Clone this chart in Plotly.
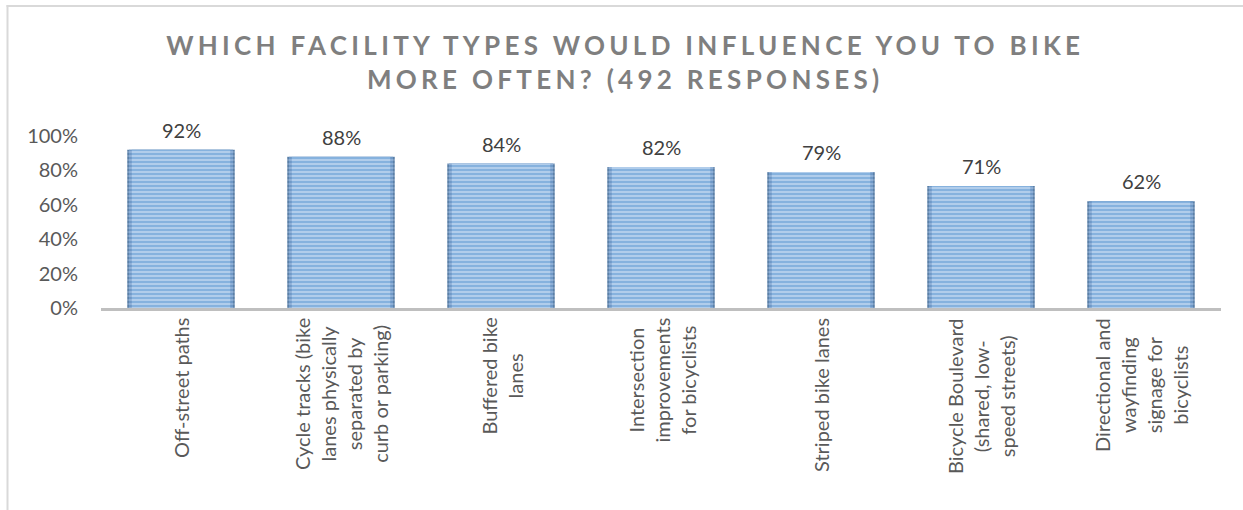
import plotly.graph_objects as go

categories = [
    "Off-street paths",
    "Cycle tracks (bike<br>lanes physically<br>separated by<br>curb or parking)",
    "Buffered bike<br>lanes",
    "Intersection<br>improvements<br>for bicyclists",
    "Striped bike lanes",
    "Bicycle Boulevard<br>(shared, low-<br>speed streets)",
    "Directional and<br>wayfinding<br>signage for<br>bicyclists",
]
values = [0.92, 0.88, 0.84, 0.82, 0.79, 0.71, 0.62]
value_labels = ["92%", "88%", "84%", "82%", "79%", "71%", "62%"]
tick_vals = [0, 0.2, 0.4, 0.6, 0.8, 1.0]
tick_text = ["0%", "20%", "40%", "60%", "80%", "100%"]
title_lines = ["WHICH FACILITY TYPES WOULD INFLUENCE YOU TO BIKE", "MORE OFTEN? (492 RESPONSES)"]

FONT = "Lato"
W, H = 1243, 510
ML, MR, MT, MB = 101, 22, 136, 202
pw = W - ML - MR
ph = H - MT - MB

x_idx = list(range(len(categories)))

fig = go.Figure()
# bar body (shaded edges -> lighter centre, horizontal stripes)
shades = [
    (0.672, "#36628f", "#7f9dbf"),
    (0.650, "#4379b2", "#9bb9dc"),
    (0.615, "#4a8ccc", "#c3d8f0"),
]
for w, fg, bg in shades:
    fig.add_trace(go.Bar(
        x=x_idx,
        y=values,
        marker=dict(
            color=bg,
            pattern=dict(shape="-", fgcolor=fg, bgcolor=bg, size=4, solidity=0.65),
            line=dict(width=0),
        ),
        width=w,
        hoverinfo="skip",
    ))

# value labels above the bars
for i, v, t in zip(x_idx, values, value_labels):
    fig.add_annotation(
        x=i, y=v, xref="x", yref="y", text=t,
        xanchor="center", yanchor="bottom", yshift=6,
        showarrow=False,
        font=dict(family=FONT, size=20, color="#404040"),
    )

# category labels under the axis (rotated, centred lines)
for i, c in zip(x_idx, categories):
    fig.add_annotation(
        x=i, y=0, xref="x", yref="y",
        text=c, textangle=-90, align="center",
        xanchor="center", yanchor="top", yshift=-8,
        showarrow=False,
        font=dict(family=FONT, size=20, color="#595959"),
    )

# chart border (partially visible frame: left and top edges)
def px_to_paper_x(px):
    return (px - ML) / pw

def px_to_paper_y(py):
    return (H - MB - py) / ph

fig.add_shape(type="rect", xref="paper", yref="paper",
              x0=px_to_paper_x(6.5), x1=px_to_paper_x(W + 5),
              y0=px_to_paper_y(7), y1=px_to_paper_y(5),
              line=dict(width=0), fillcolor="#d9d9d9", layer="above")
fig.add_shape(type="rect", xref="paper", yref="paper",
              x0=px_to_paper_x(6.5), x1=px_to_paper_x(8.5),
              y0=px_to_paper_y(H + 5), y1=px_to_paper_y(5),
              line=dict(width=0), fillcolor="#d9d9d9", layer="above")

span = '<span style="letter-spacing:4.3px">'
title_html = "<br>".join(span + t + "</span>" for t in title_lines)

fig.update_layout(
    width=W, height=H,
    margin=dict(l=ML, r=MR, t=MT, b=MB),
    paper_bgcolor="white", plot_bgcolor="white",
    showlegend=False,
    barmode="overlay",
    title=dict(
        text=title_html,
        x=0.503, xanchor="center", xref="container",
        y=1 - 55 / H, yanchor="top", yref="container",
        font=dict(family=FONT, size=26, color="#7f7f7f", weight="bold"),
    ),
    xaxis=dict(
        range=[-0.5, len(categories) - 0.5],
        showticklabels=False, ticks="", showgrid=False, zeroline=False,
        showline=True, linecolor="#bfbfbf", linewidth=3,
        tickvals=x_idx,
    ),
    yaxis=dict(
        range=[0, 1], tickvals=tick_vals, ticktext=tick_text,
        showgrid=False, zeroline=False, showline=False, ticks="",
        ticklabelstandoff=22,
        tickfont=dict(family=FONT, size=20, color="#595959"),
    ),
)

fig.write_html("out.html")
